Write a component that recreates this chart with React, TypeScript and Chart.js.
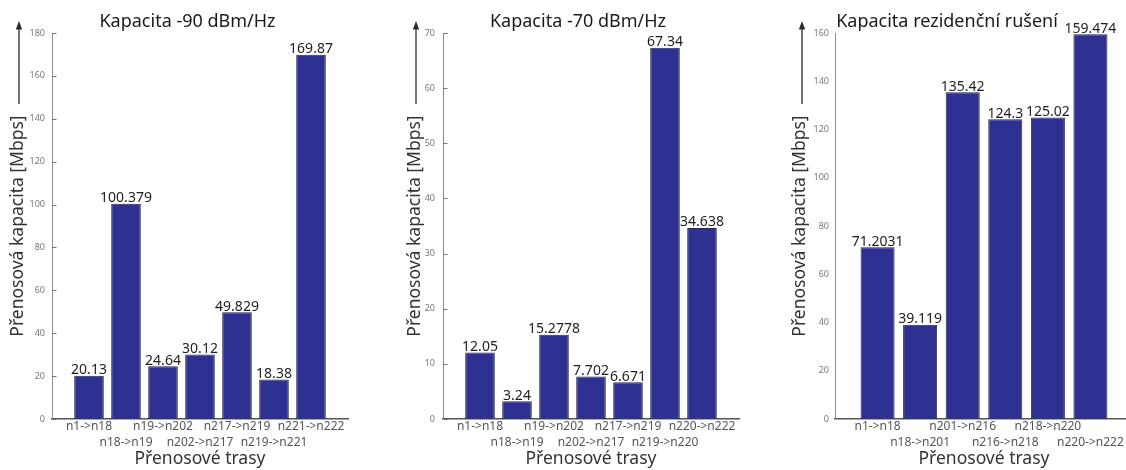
import React, { useEffect, useRef } from 'react';
import { Chart, registerables } from 'chart.js';

Chart.register(...registerables);
Chart.defaults.font.family = '"Noto Sans", sans-serif';

// ---- data ----
const titles = ['Kapacita -90 dBm/Hz', 'Kapacita -70 dBm/Hz', 'Kapacita rezidenční rušení'];
const yAxisTitle = 'Přenosová kapacita [Mbps]';
const xAxisTitle = 'Přenosové trasy';

const routesA = ['n1->n18', 'n18->n19', 'n19->n202', 'n202->n217', 'n217->n219', 'n219->n221', 'n221->n222'];
const capacityA = [20.13, 100.379, 24.64, 30.12, 49.829, 18.38, 169.87];
const yTicksA = [0, 20, 40, 60, 80, 100, 120, 140, 160, 180];

const routesB = ['n1->n18', 'n18->n19', 'n19->n202', 'n202->n217', 'n217->n219', 'n219->n220', 'n220->n222'];
const capacityB = [12.05, 3.24, 15.2778, 7.702, 6.671, 67.34, 34.638];
const yTicksB = [0, 10, 20, 30, 40, 50, 60, 70];

const routesC = ['n1->n18', 'n18->n201', 'n201->n216', 'n216->n218', 'n218->n220', 'n220->n222'];
const capacityC = [71.2031, 39.119, 135.42, 124.3, 125.02, 159.474];
const yTicksC = [0, 20, 40, 60, 80, 100, 120, 140, 160];

const BAR_COLOR = '#2E3192';

const decor = {
  id: 'decor',
  afterDraw(chart: any, _args: any, o: any) {
    const { ctx, chartArea } = chart;
    ctx.save();
    // title
    ctx.fillStyle = '#1a1a1a';
    ctx.font = '18px "Noto Sans"';
    ctx.textAlign = 'center';
    ctx.textBaseline = 'alphabetic';
    ctx.fillText(o.title, o.titleX, 26.5);
    // arrow
    ctx.strokeStyle = '#2a2a2a';
    ctx.lineWidth = 1.3;
    ctx.beginPath();
    ctx.moveTo(o.arrowX, 104);
    ctx.lineTo(o.arrowX, 27);
    ctx.stroke();
    ctx.fillStyle = '#2a2a2a';
    ctx.beginPath();
    ctx.moveTo(o.arrowX, 21);
    ctx.lineTo(o.arrowX - 3.2, 29.5);
    ctx.lineTo(o.arrowX + 3.2, 29.5);
    ctx.closePath();
    ctx.fill();
    // inner tick marks
    if (o.innerTicks) {
      const ys = chart.scales.y;
      ctx.strokeStyle = '#777';
      ctx.lineWidth = 1;
      ctx.beginPath();
      ys.ticks.forEach((t: any) => {
        const py = Math.round(ys.getPixelForValue(t.value)) + 0.5;
        ctx.moveTo(chartArea.left, py);
        ctx.lineTo(chartArea.left + 4.5, py);
      });
      ctx.stroke();
    }
    // value labels
    const meta = chart.getDatasetMeta(0);
    const data = chart.data.datasets[0].data;
    ctx.fillStyle = '#1e1e1e';
    ctx.font = '14px "Noto Sans"';
    ctx.textAlign = 'center';
    ctx.textBaseline = 'alphabetic';
    meta.data.forEach((bar: any, i: number) => {
      ctx.fillText(String(data[i].y), bar.x, bar.y - 1.5);
    });
    ctx.restore();
  },
};

type Layout = {
  left: number;
  width: number;
  yWidth: number;
  padRight: number;
  yTitlePad: number;
  tickPad: number;
  arrowX: number;
  titleX: number;
  innerTicks: boolean;
};

function Panel({ routes, values, yTicks, title, layout }: { routes: string[]; values: number[]; yTicks: number[]; title: string; layout: Layout }) {
  const ref = useRef<HTMLCanvasElement>(null);
  useEffect(() => {
    const chart = new Chart(ref.current as HTMLCanvasElement, {
      type: 'bar',
      data: {
        datasets: [
          {
            data: values.map((v, i) => ({ x: i + 1, y: v })),
            backgroundColor: BAR_COLOR,
            borderColor: '#2b2b2b',
            borderWidth: 1,
            barPercentage: 0.8,
            categoryPercentage: 1,
          } as any,
        ],
      },
      options: {
        responsive: false,
        animation: false,
        layout: { padding: { left: 0, top: 33, right: layout.padRight, bottom: 0 } },
        plugins: {
          legend: { display: false },
          tooltip: { enabled: false },
          decor: {
            title,
            titleX: layout.titleX,
            arrowX: layout.arrowX,
            innerTicks: layout.innerTicks,
          },
        } as any,
        scales: {
          x: {
            type: 'linear',
            min: 0,
            max: routes.length + 1,
            offset: false,
            grid: { display: false, drawTicks: false, offset: false },
            border: { display: true, color: '#555', width: 1.5 },
            afterBuildTicks: (s: any) => {
              s.ticks = routes.map((_, i) => ({ value: i + 1 }));
            },
            afterFit: (s: any) => {
              s.height = 51;
            },
            ticks: {
              autoSkip: false,
              maxRotation: 0,
              minRotation: 0,
              padding: -1,
              color: '#555',
              font: { size: 12, lineHeight: 1.375 },
              callback: (v: any) => {
                const i = Math.round(Number(v)) - 1;
                const t = routes[i] ?? '';
                return i % 2 === 1 ? ['', t] : t;
              },
            },
            title: {
              display: true,
              text: xAxisTitle,
              color: '#333',
              font: { size: 17.5 },
              padding: { top: 0, bottom: 0 },
            },
          },
          y: {
            min: 0,
            max: yTicks[yTicks.length - 1],
            grid: { display: false, drawTicks: false },
            border: { display: true, color: '#8c8c8c', width: 1 },
            afterBuildTicks: (s: any) => {
              s.ticks = yTicks.map((v) => ({ value: v }));
            },
            afterFit: (s: any) => {
              s.width = layout.yWidth;
            },
            ticks: { padding: layout.tickPad, color: '#777', font: { size: 9 } },
            title: {
              display: true,
              text: yAxisTitle,
              color: '#333',
              font: { size: 17.5 },
              padding: { top: layout.yTitlePad, bottom: 0 },
            },
          },
        } as any,
      },
      plugins: [decor as any],
    });
    return () => chart.destroy();
  }, []);
  return (
    <canvas
      ref={ref}
      width={layout.width}
      height={470}
      style={{ position: 'absolute', left: layout.left, top: 0, width: layout.width, height: 470 }}
    />
  );
}

const layoutA: Layout = { left: 0, width: 375, yWidth: 52, padRight: 27, yTitlePad: 7.5, tickPad: 7, arrowX: 19, titleX: 187.5, innerTicks: true };
const layoutB: Layout = { left: 375, width: 375, yWidth: 68, padRight: 11, yTitlePad: 29.5, tickPad: 8, arrowX: 41, titleX: 203, innerTicks: true };
const layoutC: Layout = { left: 750, width: 400, yWidth: 85, padRight: 17, yTitlePad: 39.5, tickPad: 6, arrowX: 52, titleX: 197, innerTicks: false };

export default function App() {
  return (
    <div style={{ position: 'absolute', left: 0, top: 0, width: 1126, height: 470, overflow: 'hidden', background: '#fff' }}>
      <Panel routes={routesA} values={capacityA} yTicks={yTicksA} title={titles[0]} layout={layoutA} />
      <Panel routes={routesB} values={capacityB} yTicks={yTicksB} title={titles[1]} layout={layoutB} />
      <Panel routes={routesC} values={capacityC} yTicks={yTicksC} title={titles[2]} layout={layoutC} />
    </div>
  );
}
